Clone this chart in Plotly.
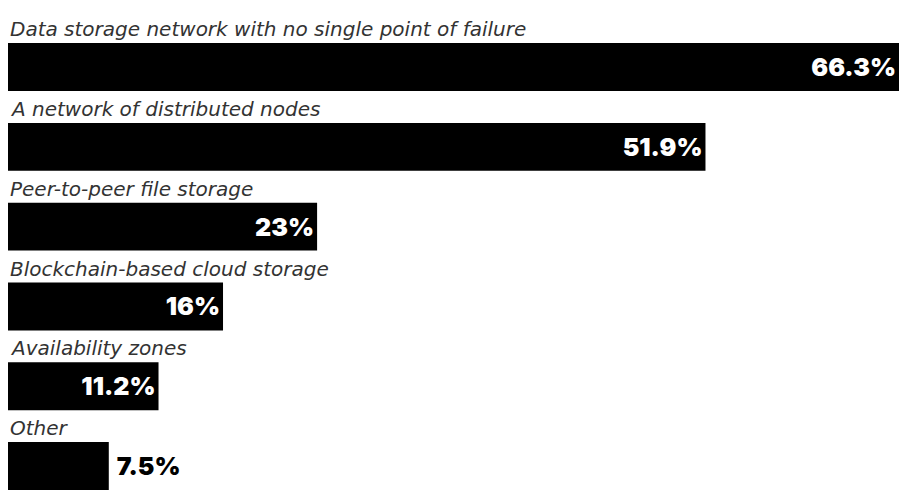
import plotly.graph_objects as go

# Survey answers and their shares (%)
categories = [
    "Data storage network with no single point of failure",
    "A network of distributed nodes",
    "Peer-to-peer file storage",
    "Blockchain-based cloud storage",
    "Availability zones",
    "Other",
]
shares = [66.3, 51.9, 23, 16, 11.2, 7.5]
value_labels = ["66.3%", "51.9%", "23%", "16%", "11.2%", "\u00a07.5%"]
label_positions = ["inside", "inside", "inside", "inside", "inside", "outside"]

rows = list(range(len(categories)))

fig = go.Figure(
    go.Bar(
        x=shares,
        y=rows,
        orientation="h",
        width=0.6,
        marker=dict(color="#000000", line=dict(width=0)),
        text=value_labels,
        textposition=label_positions,
        insidetextanchor="end",
        textangle=0,
        cliponaxis=False,
        insidetextfont=dict(family="Inter, Lato, sans-serif", size=25, color="#ffffff", weight=900),
        outsidetextfont=dict(family="Inter, Lato, sans-serif", size=25, color="#000000", weight=900),
        hoverinfo="skip",
    )
)

# Category captions sit just above each bar
for r, name in zip(rows, categories):
    fig.add_annotation(
        x=0, xref="x", xanchor="left",
        y=r - 0.3, yref="y", yanchor="bottom",
        yshift=0,
        text=f"<i>{name}</i>",
        showarrow=False,
        font=dict(family="DejaVu Sans, sans-serif", size=20, color="#333333"),
    )

fig.update_layout(
    width=899, height=497,
    margin=dict(l=8, r=0, t=0, b=0),
    paper_bgcolor="#ffffff",
    plot_bgcolor="#ffffff",
    showlegend=False,
    xaxis=dict(range=[0, 66.3], visible=False, fixedrange=True),
    yaxis=dict(range=[5.388, -0.84], visible=False, fixedrange=True),
    uniformtext=dict(mode=False),
)

fig.write_html("out.html")
